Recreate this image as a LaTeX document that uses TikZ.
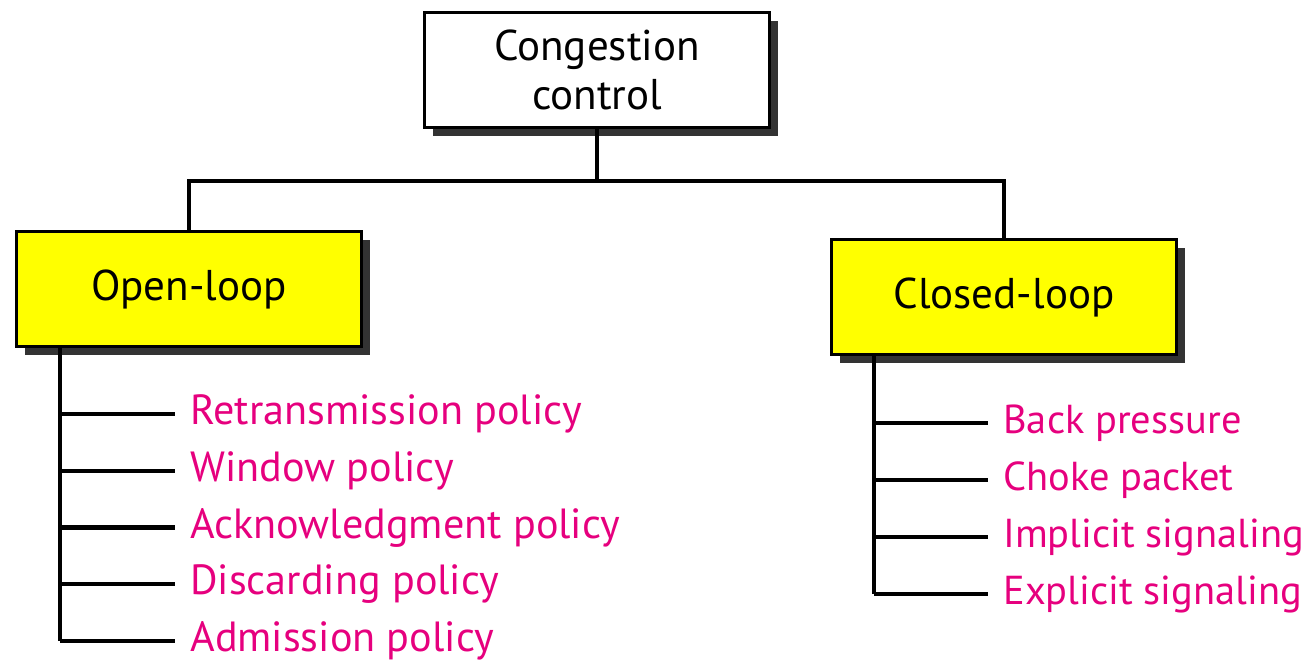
\documentclass[tikz,border=0pt]{standalone}
\usepackage{fontspec}
\setmainfont{PT Sans}
\usetikzlibrary{shadows}
\definecolor{itempink}{HTML}{E6007E}
\definecolor{boxyellow}{RGB}{255,255,0}
\begin{document}
\begin{tikzpicture}[x=0.02cm,y=-0.02cm,
		box/.style={draw,line width=1.6pt,minimum width=6.9cm,minimum height=2.3cm,align=center,
			font=\fontsize{24.5}{28}\selectfont,
			drop shadow={shadow xshift=0.17cm,shadow yshift=-0.17cm,fill=black!80,opacity=1}},
		item/.style={anchor=west,inner xsep=0.3cm,text=itempink,font=\fontsize{24}{28}\selectfont},
		wire/.style={line width=2.3pt}]
	\useasboundingbox (0,0) rectangle (1312,661);
	
	\node[box,fill=white] (cc) at (597,70) {Congestion\\control};
	\node[box,fill=boxyellow] (open) at (189,289) {Open-loop};
	\node[box,fill=boxyellow] (closed) at (1004,297) {Closed-loop};
	
	\coordinate (bus) at (0,181);
	\draw[wire] (cc.south) -- (cc.south |- bus);
	\draw[wire] (open.north) -- (open.north |- bus) -- (closed.north |- bus) -- (closed.north);
	
	\foreach \t [count=\i] in {Retransmission policy,Window policy,Acknowledgment policy,Discarding policy,Admission policy} {
		\node[item] (o\i) at (175,{414+56.75*(\i-1)}) {\t};
		\draw[wire] (o\i.west -| 60,0) -- (o\i.west);
	}
	\draw[wire] (open.south -| 60,0) -- (o5.west -| 60,0);
	
	\foreach \t [count=\i] in {Back pressure,Choke packet,Implicit signaling,Explicit signaling} {
		\node[item,font=\fontsize{23}{27}\selectfont] (c\i) at (988,{423+57*(\i-1)}) {\t};
		\draw[wire] (c\i.west -| 874,0) -- (c\i.west);
	}
	\draw[wire] (closed.south -| 874,0) -- (c4.west -| 874,0);
\end{tikzpicture}
\end{document}
